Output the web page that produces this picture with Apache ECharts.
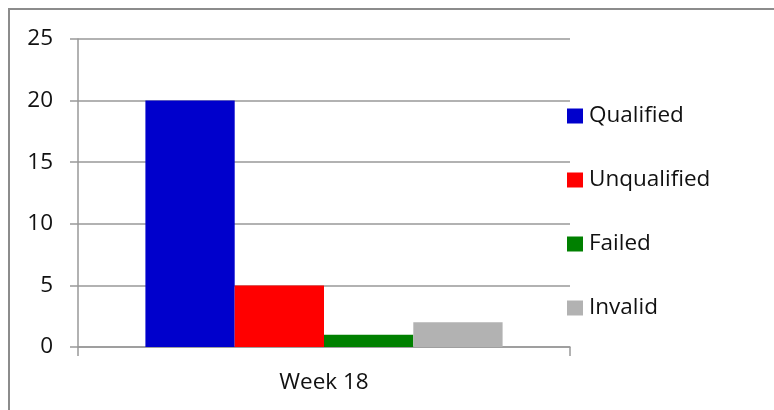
<!DOCTYPE html>
<html>
<head>
<meta charset="utf-8">
<script src="https://cdn.jsdelivr.net/npm/echarts@6/dist/echarts.min.js"></script>
<style>
  html, body { margin: 0; padding: 0; background: #fff; }
  #main { width: 774px; height: 410px; }
</style>
</head>
<body>
<div id="main"></div>
<script>
var categories = ['Week 18'];
var seriesNames = ['Qualified', 'Unqualified', 'Failed', 'Invalid'];
var qualified = [20];
var unqualified = [5];
var failed = [1];
var invalid = [2];
var colors = ['#0000cc', '#ff0000', '#008000', '#b2b2b2'];

var myChart = echarts.init(document.getElementById('main'));
var fontName = 'Open Sans';

function bar(name, values, color) {
    return {
        name: name,
        type: 'bar',
        data: values,
        barGap: '0%',
        barCategoryGap: '27.4%',
        itemStyle: { color: color }
    };
}

myChart.setOption({
    animation: false,
    textStyle: { fontFamily: fontName },
    graphic: [{
        type: 'rect',
        shape: { x: 9, y: 9, width: 820, height: 460 },
        style: { fill: 'none', stroke: '#8c8c8c', lineWidth: 2 },
        silent: true
    }],
    legend: {
        orient: 'vertical',
        left: 567,
        top: 104,
        padding: 0,
        itemGap: 40,
        itemWidth: 16,
        itemHeight: 15,
        icon: 'rect',
        data: seriesNames,
        textStyle: { fontSize: 22.5, lineHeight: 24, color: '#111', fontFamily: fontName, padding: [0, 0, 0, 1] }
    },
    grid: {
        left: 78,
        right: 204,
        top: 39,
        bottom: 63
    },
    xAxis: {
        type: 'category',
        data: categories,
        axisLine: { lineStyle: { color: '#999', width: 1.5 } },
        axisTick: { show: true, length: 9, lineStyle: { color: '#999', width: 1.5 } },
        axisLabel: { fontSize: 22.5, color: '#111', margin: 24 }
    },
    yAxis: {
        type: 'value',
        min: 0,
        max: 25,
        interval: 5,
        axisLine: { show: true, lineStyle: { color: '#999', width: 1.5 } },
        axisTick: { show: true, length: 8, lineStyle: { color: '#999', width: 1.5 } },
        axisLabel: { fontSize: 22.5, color: '#111', margin: 25 },
        splitLine: { lineStyle: { color: '#999', width: 1.5 } }
    },
    series: [
        bar(seriesNames[0], qualified, colors[0]),
        bar(seriesNames[1], unqualified, colors[1]),
        bar(seriesNames[2], failed, colors[2]),
        bar(seriesNames[3], invalid, colors[3])
    ]
});
</script>
</body>
</html>
